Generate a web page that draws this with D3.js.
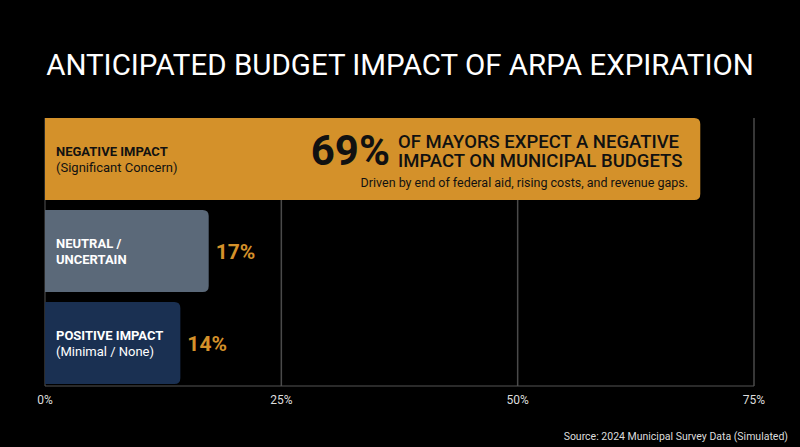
<!DOCTYPE html>
<meta charset="utf-8">
<style>
 body{margin:0;background:#000;}
 text{font-family:Roboto,"Noto Sans",sans-serif;}
</style>
<script src="https://d3js.org/d3.v7.min.js"></script>
<svg width="800" height="447"></svg>
<script>
const categories = ['negative','neutral','positive'];
const values = [69, 17, 14];
const labels1 = ['NEGATIVE IMPACT','NEUTRAL /','POSITIVE IMPACT'];
const labels2 = ['(Significant Concern)','UNCERTAIN','(Minimal / None)'];
const label2Bold = [false, true, false];
const colors = ['#D4912A','#5B6979','#1A3052'];
const ticks = [0,25,50,75];

const svg = d3.select('svg');
const x = d3.scaleLinear().domain([0,75]).range([45,754]);
const y = d3.scaleBand().domain(categories).range([118,384]).paddingInner(0.11);

svg.append('text').attr('x',400).attr('y',75).attr('text-anchor','middle')
  .attr('fill','#fff').attr('font-size',29.5).text('ANTICIPATED BUDGET IMPACT OF ARPA EXPIRATION');

// grid
svg.selectAll('.grid').data(ticks.slice(1)).join('line')
  .attr('x1',d=>x(d)).attr('x2',d=>x(d)).attr('y1',118).attr('y2',386)
  .attr('stroke','#4a4a4a').attr('stroke-width',1.5);
svg.append('line').attr('x1',x(0)).attr('x2',x(0)).attr('y1',118).attr('y2',386)
  .attr('stroke','#555').attr('stroke-width',1);
svg.append('line').attr('x1',x(0)).attr('x2',x(75)).attr('y1',386).attr('y2',386)
  .attr('stroke','#555').attr('stroke-width',1);

const r = 6;
svg.selectAll('.bar').data(categories).join('path')
  .attr('fill',(d,i)=>colors[i])
  .attr('d',(d,i)=>{
    const x0=x(0), x1=x(values[i])+3, y0=y(d), h=y.bandwidth();
    return `M${x0},${y0}H${x1-r}Q${x1},${y0} ${x1},${y0+r}V${y0+h-r}Q${x1},${y0+h} ${x1-r},${y0+h}H${x0}Z`;
  });

categories.forEach((d,i)=>{
  const cy = y(d)+y.bandwidth()/2;
  const fc = i===0 ? '#111' : '#fff';
  svg.append('text').attr('x',56).attr('y',cy-3).attr('fill',fc)
    .attr('font-size',13).attr('font-weight',700).text(labels1[i]);
  svg.append('text').attr('x',56).attr('y',cy+13).attr('fill',fc)
    .attr('font-size',13).attr('font-weight',label2Bold[i]?700:400).text(labels2[i]);
  if(i>0){
    svg.append('text').attr('x',x(values[i])+10).attr('y',cy+8).attr('fill','#D4912A')
      .attr('font-size',21).attr('font-weight',700).text(values[i]+'%');
  }
});

// annotation on top bar
const ay = y('negative');
svg.append('text').attr('x',390).attr('y',ay+47).attr('text-anchor','end')
  .attr('fill','#111').attr('font-size',42).attr('font-weight',700).text(values[0]+'%');
svg.append('text').attr('x',398).attr('y',ay+30).attr('fill','#111')
  .attr('font-size',18.5).attr('font-weight',500).text('OF MAYORS EXPECT A NEGATIVE');
svg.append('text').attr('x',398).attr('y',ay+49).attr('fill','#111')
  .attr('font-size',18.5).attr('font-weight',500).text('IMPACT ON MUNICIPAL BUDGETS');
svg.append('text').attr('x',688).attr('y',ay+69).attr('text-anchor','end').attr('fill','#111')
  .attr('font-size',12.5).text('Driven by end of federal aid, rising costs, and revenue gaps.');

svg.selectAll('.tick').data(ticks).join('text')
  .attr('x',d=>x(d)).attr('y',404).attr('text-anchor','middle')
  .attr('fill','#ddd').attr('font-size',12).text(d=>d+'%');

svg.append('text').attr('x',788).attr('y',440).attr('text-anchor','end')
  .attr('fill','#ddd').attr('font-size',10.5).text('Source: 2024 Municipal Survey Data (Simulated)');
</script>
